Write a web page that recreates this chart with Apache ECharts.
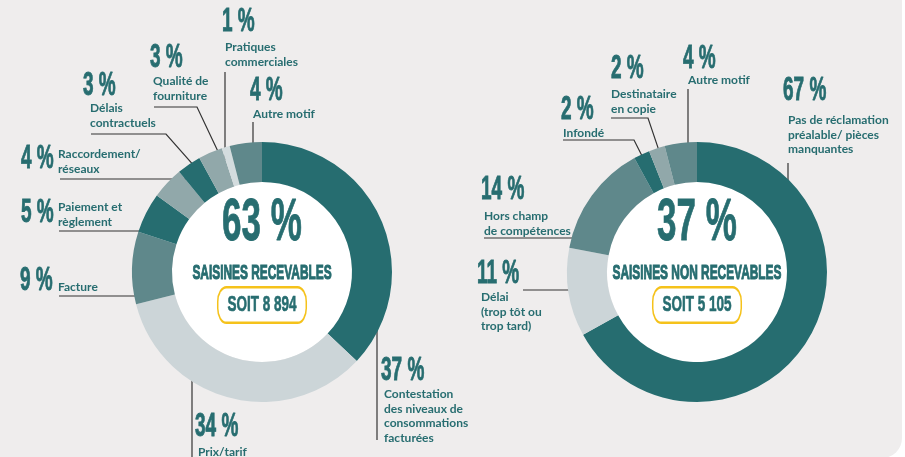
<!DOCTYPE html>
<html>
<head>
<meta charset="utf-8">
<script src="https://cdn.jsdelivr.net/npm/echarts@6/dist/echarts.min.js"></script>
<style>
html, body { margin: 0; padding: 0; background: #ffffff; }
#main { width: 905px; height: 457px; }
</style>
</head>
<body>
<div id="main"></div>
<script>
// saisines recevables (left donut), clockwise from 12 o'clock
const leftNames = ['Contestation\ndes niveaux de\nconsommations\nfacturées', 'Prix/tarif', 'Facture', 'Paiement et\nrèglement',
    'Raccordement/\nréseaux', 'Délais\ncontractuels', 'Qualité de\nfourniture', 'Pratiques\ncommerciales', 'Autre motif'];
const leftValues = [37, 34, 9, 5, 4, 3, 3, 1, 4];

// saisines non recevables (right donut)
const rightNames = ['Pas de réclamation\npréalable/ pièces\nmanquantes', 'Délai\n(trop tôt ou\ntrop tard)', 'Hors champ\nde compétences',
    'Infondé', 'Destinataire\nen copie', 'Autre motif'];
const rightValues = [67, 11, 14, 2, 2, 4];

// centre texts
const centerShares = [63, 37];
const centerTitles = ['SAISINES RECEVABLES', 'SAISINES NON RECEVABLES'];
const centerCounts = ['8 894', '5 105'];

// colours
const TEAL = '#276d70';
const C = { dark: '#266d70', light: '#ccd5d8', mid: '#5f888b', gray: '#91a8aa', pale: '#d3dcde' };
const leftColors = [C.dark, C.light, C.mid, C.dark, C.gray, C.dark, C.gray, C.pale, C.mid];
const rightColors = [C.dark, C.light, C.mid, C.dark, C.gray, C.mid];

const BIG = '"Liberation Sans", Arial, sans-serif';
const CENTERS = [[262, 272], [697, 272]];
const R_IN = 90, R_OUT = 130, R_ANCHOR = 118;

// label placement: percentages (left edge, cap middle), descriptions (top-left)
const leftPctPos = [[381, 371], [195, 427], [20, 281], [21, 213], [21, 159], [83, 86], [150, 58], [222, 22], [250, 91]];
const leftDescPos = [[384, 387], [198, 445], [58, 280], [58, 200], [58, 147], [90, 101], [153, 74], [225, 40], [253, 107]];
// leader lines: kind, points from label side, t = position inside slice for diagonal ones
const leftLines = [
    { k: 'v', pts: [[377, 440]] },
    { k: 'v', pts: [[192, 460]] },
    { k: 'h', pts: [[59, 296]] },
    { k: 'h', pts: [[59, 231]] },
    { k: 'h', pts: [[60, 179]] },
    { k: 'd', pts: [[91, 134], [166, 134]], t: 0.7 },
    { k: 'd', pts: [[154, 107], [197, 107]], t: 0.85 },
    { k: 'v', pts: [[225, 72]] },
    { k: 'v', pts: [[253, 122]] }
];
const rightPctPos = [[783, 91], [477, 274], [481, 190], [561, 110], [611, 69], [683, 59]];
const rightDescPos = [[788, 113], [481, 290], [484, 209], [563, 126], [611, 87], [688, 73]];
const rightLines = [
    { k: 'v', pts: [[788, 163]] },
    { k: 'h', pts: [[523, 290]] },
    { k: 'h', pts: [[484, 238]] },
    { k: 'd', pts: [[563, 140], [634, 140]], t: 0.5 },
    { k: 'd', pts: [[611, 118], [648, 118]], t: 0.6 },
    { k: 'v', pts: [[688, 89]] }
];

function sliceAngles(values) {
    const total = values.reduce((a, b) => a + b, 0);
    let acc = 0;
    return values.map(v => {
        const a0 = acc / total * 360;
        acc += v;
        return [a0, acc / total * 360];
    });
}

function anchorPoint(line, center, ang) {
    const cx = center[0], cy = center[1];
    const end = line.pts[line.pts.length - 1];
    if (line.k === 'h') {
        const dy = end[1] - cy;
        const dx = Math.sqrt(R_ANCHOR * R_ANCHOR - dy * dy);
        return [end[0] < cx ? cx - dx : cx + dx, end[1]];
    }
    if (line.k === 'v') {
        const dx = end[0] - cx;
        const dy = Math.sqrt(R_ANCHOR * R_ANCHOR - dx * dx);
        return [end[0], line.pts[0][1] < cy ? cy - dy : cy + dy];
    }
    const th = (ang[0] + line.t * (ang[1] - ang[0])) * Math.PI / 180;
    return [cx + R_ANCHOR * Math.sin(th), cy - R_ANCHOR * Math.cos(th)];
}

function donut(center, names, values, colors, descPos, lines) {
    const angles = sliceAngles(values);
    const base = {
        type: 'pie',
        center: center,
        radius: [R_IN, R_OUT],
        startAngle: 90,
        clockwise: true,
        avoidLabelOverlap: false,
        silent: true,
        emphasis: { disabled: true },
        animation: false
    };
    return [
        // white hole
        Object.assign({}, base, {
            radius: [0, R_IN],
            data: [{ value: 1, itemStyle: { color: '#ffffff' } }],
            label: { show: false },
            labelLine: { show: false }
        }),
        // ring
        Object.assign({}, base, {
            data: values.map((v, i) => ({ value: v, name: names[i], itemStyle: { color: colors[i] } })),
            label: { show: false },
            labelLine: { show: false }
        }),
        // descriptions + leader lines
        Object.assign({}, base, {
            data: values.map((v, i) => ({ value: v, name: names[i], itemStyle: { color: 'rgba(0,0,0,0)' } })),
            label: {
                show: true,
                formatter: '{b}',
                fontFamily: 'Lato',
                fontWeight: 'bold',
                fontSize: 12,
                lineHeight: 14.5,
                color: TEAL
            },
            labelLine: { show: true, lineStyle: { color: '#333333', width: 1.2 } },
            labelLayout: p => {
                const i = p.dataIndex;
                const ln = lines[i];
                return {
                    x: descPos[i][0],
                    y: descPos[i][1],
                    align: 'left',
                    verticalAlign: 'top',
                    labelLinePoints: ln.pts.concat([anchorPoint(ln, center, angles[i])])
                };
            }
        })
    ];
}

// tall condensed-looking text (no condensed font installed, so stretch vertically)
function tallText(x, y, text, size, sy, align, extra) {
    return {
        type: 'text', x: x, y: y, scaleY: sy, z: 100, silent: true,
        style: Object.assign({
            text: text, fill: TEAL,
            stroke: TEAL, lineWidth: 0.5,
            font: 'bold ' + size + 'px ' + BIG,
            align: align, verticalAlign: 'middle', textAlign: align, textVerticalAlign: 'middle'
        }, extra || {})
    };
}

let myChart = echarts.init(document.getElementById('main'));

let graphics = [{
    type: 'rect', z: -10, silent: true,
    shape: { x: -30, y: -30, width: 932, height: 488, r: 20 },
    style: { fill: '#efeded' }
}];
leftValues.forEach((v, i) => graphics.push(tallText(leftPctPos[i][0], leftPctPos[i][1], v + ' %', 19, 1.75, 'left')));
rightValues.forEach((v, i) => graphics.push(tallText(rightPctPos[i][0], rightPctPos[i][1], v + ' %', 19, 1.75, 'left')));
CENTERS.forEach((c, k) => {
    graphics.push(tallText(c[0], c[1] - 48, centerShares[k] + ' %', 35, 1.68, 'center'));
    graphics.push(tallText(c[0], c[1] + 1, centerTitles[k], 11.9, 1.76, 'center', { lineWidth: 0.6 }));
    graphics.push(tallText(c[0], c[1] + 33, 'SOIT ' + centerCounts[k], 13.5, 1.65, 'center', {
        lineWidth: 0.4,
        lineHeight: 14,
        backgroundColor: '#ffffff',
        borderColor: '#f5c21b',
        borderWidth: 1.5,
        borderRadius: 8,
        padding: [3, 9]
    }));
});

let option = {
    backgroundColor: '#ffffff',
    animation: false,
    series: donut(CENTERS[0], leftNames, leftValues, leftColors, leftDescPos, leftLines)
        .concat(donut(CENTERS[1], rightNames, rightValues, rightColors, rightDescPos, rightLines)),
    graphic: graphics
};
myChart.setOption(option);
</script>
</body>
</html>
